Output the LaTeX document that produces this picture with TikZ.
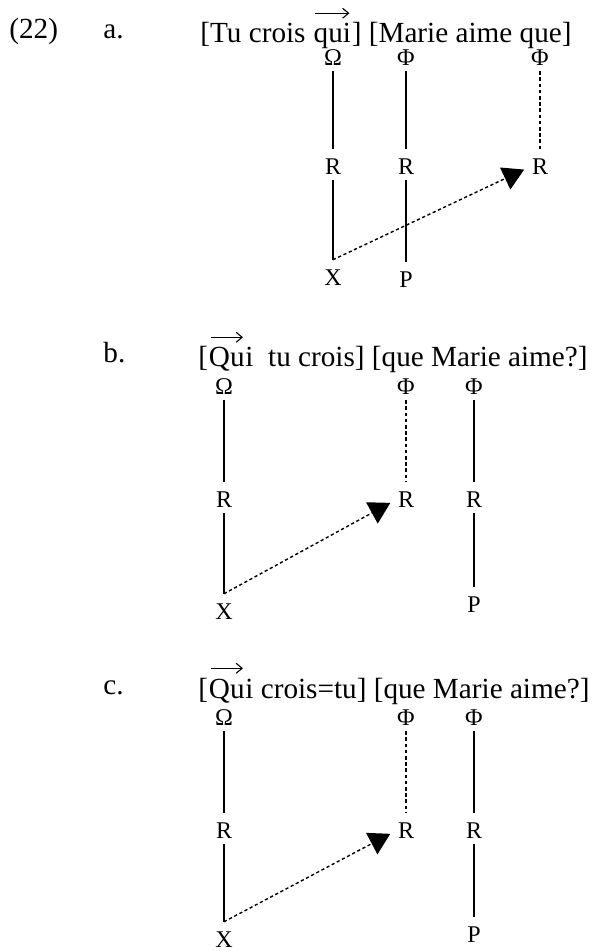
\documentclass[tikz,border=0pt]{standalone}
\usepackage{fontspec}
\setmainfont{Liberation Serif}
\usepackage{tikz}
\usetikzlibrary{arrows.meta}
\tikzset{
  sentence/.style={anchor=base west, inner sep=0pt, font=\fontsize{14.6}{17}\selectfont},
  tierlabel/.style={inner sep=1pt, font=\fontsize{12}{14}\selectfont},
  tierline/.style={line width=0.8pt, shorten <=1.5pt, shorten >=4pt},
  tierdash/.style={tierline, line width=0.75pt, dash pattern=on 1.8pt off 1.3pt},
  linkarrow/.style={-{Triangle[length=10.5pt,width=12pt]}, line width=0.7pt, dash pattern=on 1.6pt off 1.3pt, shorten >=3pt},
  wordarrow/.style={-{Straight Barb[length=3pt,width=5pt]}, line width=0.55pt, shorten <=1pt, shorten >=1pt},
}

\begin{document}
\begin{tikzpicture}[x=0.5pt,y=-0.5pt]
  \useasboundingbox (0,0) rectangle (599,951);

  % Example number and part a
  \node[sentence] (exnum) at (9,39) {(22)};
  \node[sentence] (labA) at (103,39) {a.};
  \node[sentence] (sentA) at (200,43) {[Tu crois\ \null};
  \node[sentence] (quiA) at (sentA.base east) {qui};
  \node[sentence] (restA) at (quiA.base east) {] [Marie aime que]};
  \draw[wordarrow] ([yshift=5pt]quiA.north west) -- ([yshift=5pt]quiA.north east);

  \node[tierlabel] (omegaA) at (333,58) {Ω};
  \node[tierlabel] (phiA1) at (406,58) {Φ};
  \node[tierlabel] (phiA2) at (540,58) {Φ};
  \node[tierlabel] (rA1) at (333,167) {R};
  \node[tierlabel] (rA2) at (406,167) {R};
  \node[tierlabel] (rA3) at (540,167) {R};
  \node[tierlabel] (xA) at (333,278) {X};
  \node[tierlabel] (pA) at (406,280) {P};

  \draw[tierline] (omegaA) -- (rA1);
  \draw[tierline] (rA1) -- (xA);
  \draw[tierline] (phiA1) -- (rA2);
  \draw[tierline] (rA2) -- (pA);
  \draw[tierdash] (phiA2) -- (rA3);
  \draw[linkarrow] ([yshift=4pt]xA.north) -- (rA3.west);

  % Part b
  \node[sentence] (labB) at (103,363) {b.};
  \node[sentence] (sentB) at (198,367) {[};
  \node[sentence] (quB) at (sentB.base east) {Qu};
  \node[sentence] (restB) at (quB.base east) {i\ \ tu crois] [que Marie aime?]};
  \draw[wordarrow] ([yshift=5pt]quB.north west) -- ([yshift=5pt]quB.north east);

  \node[tierlabel] (omegaB) at (224,387) {Ω};
  \node[tierlabel] (phiB1) at (406,387) {Φ};
  \node[tierlabel] (phiB2) at (474,387) {Φ};
  \node[tierlabel] (rB1) at (224,500) {R};
  \node[tierlabel] (rB2) at (406,500) {R};
  \node[tierlabel] (rB3) at (474,500) {R};
  \node[tierlabel] (xB) at (224,612) {X};
  \node[tierlabel] (pB) at (474,605) {P};

  \draw[tierline] (omegaB) -- (rB1);
  \draw[tierline] (rB1) -- (xB);
  \draw[tierdash] (phiB1) -- (rB2);
  \draw[tierline] (phiB2) -- (rB3);
  \draw[tierline] (rB3) -- (pB);
  \draw[linkarrow] ([yshift=4pt]xB.north) -- (rB2.west);

  % Part c
  \node[sentence] (labC) at (103,694) {c.};
  \node[sentence] (sentC) at (198,698) {[};
  \node[sentence] (quC) at (sentC.base east) {Qu};
  \node[sentence] (restC) at (quC.base east) {i crois=tu] [que Marie aime?]};
  \draw[wordarrow] ([yshift=5pt]quC.north west) -- ([yshift=5pt]quC.north east);

  \node[tierlabel] (omegaC) at (224,718) {Ω};
  \node[tierlabel] (phiC1) at (406,718) {Φ};
  \node[tierlabel] (phiC2) at (474,718) {Φ};
  \node[tierlabel] (rC1) at (224,831) {R};
  \node[tierlabel] (rC2) at (406,831) {R};
  \node[tierlabel] (rC3) at (474,831) {R};
  \node[tierlabel] (xC) at (224,940) {X};
  \node[tierlabel] (pC) at (474,935) {P};

  \draw[tierline] (omegaC) -- (rC1);
  \draw[tierline] (rC1) -- (xC);
  \draw[tierdash] (phiC1) -- (rC2);
  \draw[tierline] (phiC2) -- (rC3);
  \draw[tierline] (rC3) -- (pC);
  \draw[linkarrow] ([yshift=4pt]xC.north) -- (rC2.west);
\end{tikzpicture}
\end{document}
